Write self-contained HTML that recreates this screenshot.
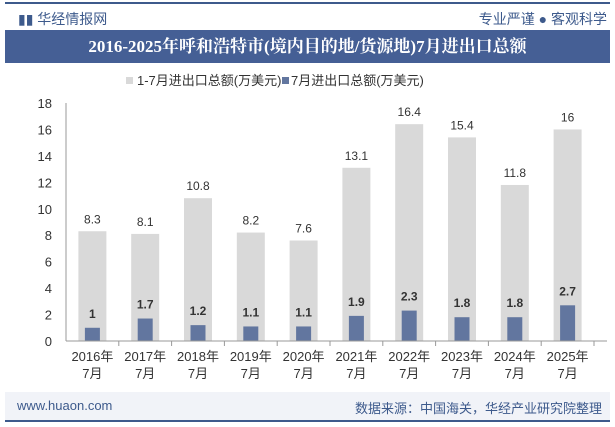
<!DOCTYPE html>
<html><head><meta charset="utf-8"><style>
body{margin:0;width:615px;height:427px;background:#fff;font-family:"Liberation Sans","Noto Sans CJK SC",sans-serif;overflow:hidden;position:relative}
.abs{position:absolute}
</style></head><body>
<div class="abs" style="left:5px;top:2px;width:605px;height:2px;background:#3d5a8c"></div>
<div class="abs" style="left:18px;top:9px;font-size:14px;color:#3d5a8c">▮▮ 华经情报网</div>
<div class="abs" style="right:8px;top:9px;font-size:14px;color:#3d5a8c">专业严谨 ● 客观科学</div>
<div class="abs" style="left:5px;top:30px;width:605px;height:33px;background:#455f95;color:#fff;font-family:'Liberation Serif','Noto Serif CJK SC',serif;font-weight:bold;font-size:17px;text-align:center;line-height:33px">2016-2025年呼和浩特市(境内目的地/货源地)7月进出口总额</div>
<svg class="abs" style="left:0;top:0" width="615" height="427" id="chart"></svg>
<div class="abs" style="left:5px;top:392px;width:605px;height:28px;background:#f1f3f8;border-bottom:2px solid #3d5a8c">
<span style="position:absolute;left:12px;top:6px;font-size:13px;color:#3d5a8c">www.huaon.com</span>
<span style="position:absolute;right:8px;top:6px;font-size:13px;color:#3d5a8c">数据来源：中国海关，华经产业研究院整理</span></div>
<script>
const categories=["2016年","2017年","2018年","2019年","2020年","2021年","2022年","2023年","2024年","2025年"];
const cumValues=[8.3,8.1,10.8,8.2,7.6,13.1,16.4,15.4,11.8,16];
const julValues=[1,1.7,1.2,1.1,1.1,1.9,2.3,1.8,1.8,2.7];
const yTicks=[0,2,4,6,8,10,12,14,16,18];
const svg=document.getElementById('chart');const NS='http://www.w3.org/2000/svg';
const x0=66,band=52.8,y0=341,yTop=103,ymax=18;
const y=v=>y0-(v/ymax)*(y0-yTop);const xc=i=>x0+band*(i+0.5);
function mk(t,a,txt){const e=document.createElementNS(NS,t);for(const k in a)e.setAttribute(k,a[k]);if(txt!==undefined)e.textContent=txt;svg.appendChild(e);return e;}
// legend
let e=mk('rect',{x:126,y:77,width:7,height:7,fill:'#d9d9d9'});

e=mk('text',{x:137,y:85,'font-size':13,fill:'#333'},'1-7月进出口总额(万美元)');

e=mk('rect',{x:282,y:77,width:7,height:7,fill:'#62769f'});

e=mk('text',{x:291,y:85,'font-size':13,fill:'#333'},'7月进出口总额(万美元)');

yTicks.forEach(t=>{e=mk('text',{x:52,y:y(t)+5,'font-size':13,fill:'#333','text-anchor':'end'},t);
});
e=mk('line',{x1:x0,y1:yTop,x2:x0,y2:y0,stroke:'#999'});

categories.forEach((c,i)=>{const cx=xc(i);
e=mk('rect',{x:cx-14,y:y(cumValues[i]),width:28,height:y0-y(cumValues[i]),fill:'#d9d9d9'});

e=mk('text',{x:cx,y:y(cumValues[i])-8,'font-size':12,fill:'#333','text-anchor':'middle'},cumValues[i]);

e=mk('rect',{x:cx-7.5,y:y(julValues[i]),width:15,height:y0-y(julValues[i]),fill:'#62769f'});

e=mk('text',{x:cx,y:y(julValues[i])-10,'font-size':12,'font-weight':'bold',fill:'#333','text-anchor':'middle'},julValues[i]);

e=mk('text',{x:cx,y:361,'font-size':13,fill:'#333','text-anchor':'middle'},c);

e=mk('text',{x:cx,y:378,'font-size':13,fill:'#333','text-anchor':'middle'},'7月');

e=mk('line',{x1:x0+band*(i+1),y1:y0,x2:x0+band*(i+1),y2:y0+5,stroke:'#999'});
});
e=mk('line',{x1:x0,y1:y0,x2:607,y2:y0,stroke:'#999'});

</script></body></html>
